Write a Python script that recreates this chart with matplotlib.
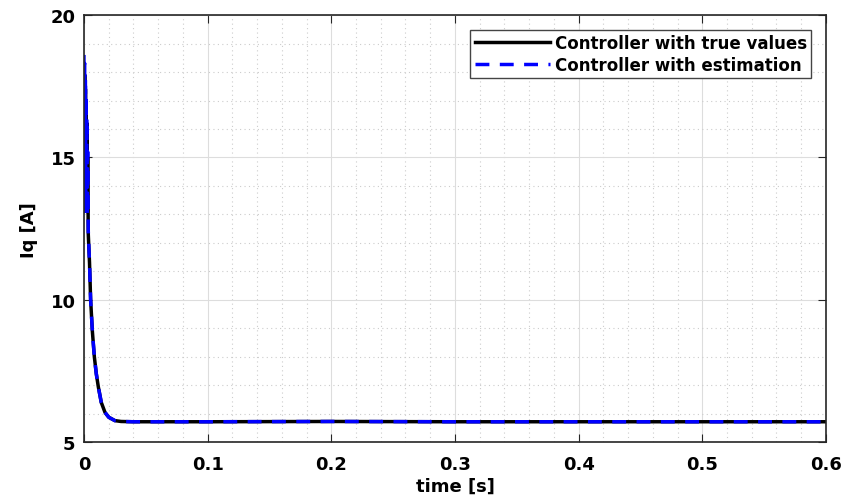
import matplotlib.pyplot as plt
from matplotlib.ticker import MultipleLocator

plt.rcParams['font.family'] = ['DejaVu Sans']
plt.rcParams['font.weight'] = 'bold'

# time [s] and Iq [A]
t_true = [0, 0.0003, 0.0006, 0.0009, 0.0012, 0.0015, 0.0018, 0.0021, 0.0024,
          0.0027, 0.0030, 0.0035, 0.0045, 0.0054, 0.0068, 0.0084, 0.0100,
          0.0116, 0.0140, 0.0170, 0.0200, 0.0250, 0.0300, 0.0400, 0.1, 0.2,
          0.3, 0.4, 0.5, 0.6]
iq_true = [17.6, 13.4, 17.9, 13.6, 17.4, 13.5, 16.9, 13.3, 16.2, 13.1, 15.0,
           12.3, 11.3, 10.0, 8.9, 8.0, 7.4, 6.95, 6.4, 6.05, 5.88, 5.76, 5.73,
           5.72, 5.72, 5.73, 5.72, 5.72, 5.72, 5.72]

t_est = [0, 0.0003, 0.0006, 0.0009, 0.0012, 0.0015, 0.0018, 0.0021, 0.0024,
         0.0027, 0.0030, 0.0035, 0.0045, 0.0054, 0.0068, 0.0084, 0.0100,
         0.0116, 0.0140, 0.0170, 0.0200, 0.0250, 0.0300, 0.0400, 0.1, 0.2,
         0.3, 0.4, 0.5, 0.6]
iq_est = [18.6, 13.1, 18.3, 13.3, 17.8, 13.2, 17.2, 13.0, 16.4, 13.0, 15.2,
          12.4, 11.3, 10.0, 8.9, 8.0, 7.4, 6.95, 6.4, 6.05, 5.88, 5.76, 5.73,
          5.72, 5.72, 5.73, 5.72, 5.72, 5.72, 5.72]

fig, ax = plt.subplots(figsize=(8.48, 5.02), dpi=100)
fig.subplots_adjust(left=0.099, right=0.974, top=0.968, bottom=0.117)

ax.plot(t_true, iq_true, color='k', lw=2.5, label='Controller with true values')
ax.plot(t_est, iq_est, color='blue', lw=2.5, ls=(0, (4, 3)),
        label='Controller with estimation')

ax.set_xlim(0, 0.6)
ax.set_ylim(5, 20)
ax.xaxis.set_minor_locator(MultipleLocator(0.02))
ax.yaxis.set_major_locator(MultipleLocator(5))
ax.yaxis.set_minor_locator(MultipleLocator(1))
ax.set_xticks([0, 0.1, 0.2, 0.3, 0.4, 0.5, 0.6])
ax.set_xticklabels(['0', '0.1', '0.2', '0.3', '0.4', '0.5', '0.6'])

ax.grid(which='major', color='#dddddd', lw=0.8)
ax.grid(which='minor', color='#cccccc', lw=0.8, ls=(0, (1, 3)))
ax.tick_params(which='both', direction='in', top=True, right=True,
               labelsize=13, color='#262626')
ax.tick_params(which='minor', length=0)
ax.tick_params(which='major', length=6)
ax.tick_params(axis='x', pad=9)
ax.tick_params(axis='y', pad=6)
for s in ax.spines.values():
    s.set_color('#262626')
    s.set_linewidth(1.2)

ax.set_xlabel('time [s]', fontsize=13, fontweight='bold', labelpad=3)
ax.set_ylabel('Iq [A]', fontsize=13, fontweight='bold', labelpad=9)

leg = ax.legend(loc='upper right', fontsize=12, fancybox=False,
                framealpha=1, edgecolor='#444444', handlelength=4.5,
                borderpad=0.25, labelspacing=0.2, handletextpad=0.3,
                borderaxespad=0.9)
leg.get_frame().set_linewidth(1.0)

fig.savefig('out.png', dpi=100)
